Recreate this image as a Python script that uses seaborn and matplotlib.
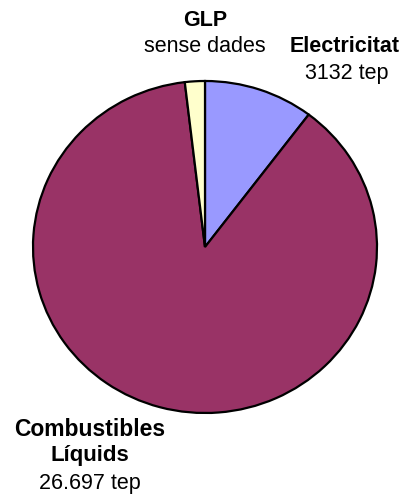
import matplotlib.pyplot as plt
import seaborn as sns

# slices, clockwise from 12 o'clock
categories = ["Electricitat", "Combustibles Líquids", "GLP"]
values = [3132, 26697, 570]  # GLP: no data, small slice drawn anyway
colors = ["#9999FF", "#993366", "#FFFFCC"]

label_titles = ["Electricitat", "Combustibles", "Líquids", "GLP"]
label_values = ["3132 tep", "26.697 tep", "sense dades"]

sns.set_style("white")
plt.rcParams["font.family"] = ["Liberation Sans", "DejaVu Sans"]
plt.rcParams["text.color"] = "black"

W, H = 408, 500
fig = plt.figure(figsize=(W / 100, H / 100), dpi=100)
ax = fig.add_axes([0, 0, 1, 1])

# pie is slightly squashed vertically in the original
sy = 172 / 166
ax.pie(values, colors=colors, startangle=90, counterclock=False,
       center=(205, (H - 247) * sy), radius=172,
       wedgeprops=dict(edgecolor="black", linewidth=1.6))
ax.set_aspect("auto")
ax.set_xlim(0, W)
ax.set_ylim(0, H * sy)
ax.axis("off")


def px(x, y):
    return x / W, 1 - y / H


fs = 15.5

# labels
fig.text(*px(205, 20), label_titles[3], ha="center", va="center",
         fontsize=fs, fontweight="bold")
fig.text(*px(205, 46), label_values[2], ha="center", va="center", fontsize=fs)

fig.text(*px(345, 47), label_titles[0], ha="center", va="center",
         fontsize=fs, fontweight="bold")
fig.text(*px(347, 73), label_values[0], ha="center", va="center", fontsize=fs)

fig.text(*px(90, 429), label_titles[1], ha="center", va="center",
         fontsize=16.5, fontweight="bold")
fig.text(*px(90, 456), label_titles[2], ha="center", va="center",
         fontsize=16, fontweight="bold")
fig.text(*px(90, 484), label_values[1], ha="center", va="center", fontsize=fs)

fig.savefig("out.png", dpi=100)
